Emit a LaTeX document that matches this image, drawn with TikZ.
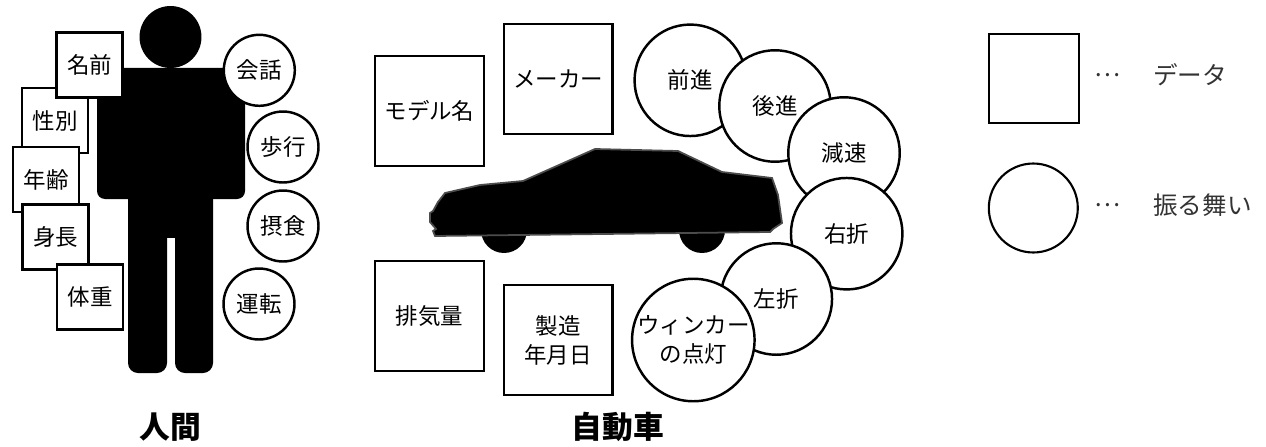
\documentclass[tikz,border=0pt]{standalone}
\usepackage{fontspec}
\setmainfont{Noto Sans CJK JP}
\usepackage{xcolor}
\usepackage{tikz}
\usetikzlibrary{positioning}

\definecolor{legendtext}{HTML}{333333}

\begin{document}
\begin{tikzpicture}[
    x=0.02cm, y=-0.02cm,
    label/.style={font=\fontsize{12.8pt}{16.5pt}\selectfont, align=center},
    attr/.style={label, rectangle, draw, fill=white, line width=1.4pt, inner sep=0pt, minimum width=1.32cm, minimum height=1.3cm},
    cardata/.style={attr, minimum width=2.17cm, minimum height=2.19cm},
    act/.style={label, circle, draw, fill=white, line width=1.4pt, inner sep=0pt, minimum size=1.42cm},
    caract/.style={act, minimum size=2.23cm},
    title/.style={font=\fontsize{17.5pt}{20pt}\selectfont\bfseries},
    legtext/.style={text=legendtext, font=\fontsize{14pt}{16pt}\selectfont, inner sep=0pt}
]
\useasboundingbox (0,0) rectangle (1266,446);

% Human figure
\fill (170.5,37) circle (0.62cm);
\fill[rounded corners=0.16cm] (97,68) rectangle (245,199);
\fill (97,68) rectangle (245,110);
\fill[rounded corners=0.2cm] (128,185) rectangle (167,373);
\fill[rounded corners=0.2cm] (175,185) rectangle (213,373);
\fill (128,190) rectangle (213,238);

% Human data
\node[attr] (sex) at (55,120.5) {性別};
\node[attr] (name) at (89.5,65) {名前};
\node[attr] (age) at (46,179.5) {年齢};
\node[attr] (height) at (55.5,237) {身長};
\node[attr] (weight) at (90,297) {体重};

% Human behaviour
\node[act] (talk) at (259.3,70.3) {会話};
\node[act] (walk) at (283,147) {歩行};
\node[act] (eat) at (283,226) {摂食};
\node[act] (drive) at (259,304) {運転};

\node[title] (human) at (170,427) {人間};

% Car silhouette
\fill (504,230) circle (0.46cm);
\fill (702,230) circle (0.46cm);
\filldraw[fill=black, draw=black!70, line width=1pt]
    (445,193) -- (480,185) -- (523,181) -- (595,149) -- (678,151) -- (722,172)
    -- (772,178) -- (778,195) -- (782,223) -- (773,229) -- (770,232)
    -- (435,236) -- (433,231) -- (436,229) -- (430,222) -- (430,213)
    -- (433,211) -- (438,202) -- cycle;

% Car data
\node[cardata] (model) at (429.5,111) {モデル名};
\node[cardata] (maker) at (558.3,79) {メーカー};
\node[cardata] (displacement) at (429.5,316) {排気量};
\node[cardata] (built) at (558.2,340) {製造\\年月日};

% Car behaviour
\node[caract] (forward) at (690.3,80.3) {前進};
\node[caract] (reverse) at (775,106) {後進};
\node[caract] (slowdown) at (844,153) {減速};
\node[caract] (rightturn) at (846.7,233.7) {右折};
\node[caract] (leftturn) at (776.3,299) {左折};
\node[caract] (blinker) at (693.3,340) {ウィンカー\\の点灯};

\node[title] (car) at (618,427) {自動車};

% Legend
\node[rectangle, draw, line width=1.2pt, minimum width=1.8cm, minimum height=1.78cm] (legdata) at (1033.7,78.3) {};
\node[circle, draw, line width=1.2pt, minimum size=1.78cm] (legact) at (1033.3,208) {};
\node[legtext] (dots1) at (1107.5,75) {…};
\node[legtext, right=0.64cm of dots1] (datatext) {データ};
\node[legtext] (dots2) at (1107.5,205) {…};
\node[legtext, right=0.64cm of dots2] (acttext) {振る舞い};

\end{tikzpicture}
\end{document}
